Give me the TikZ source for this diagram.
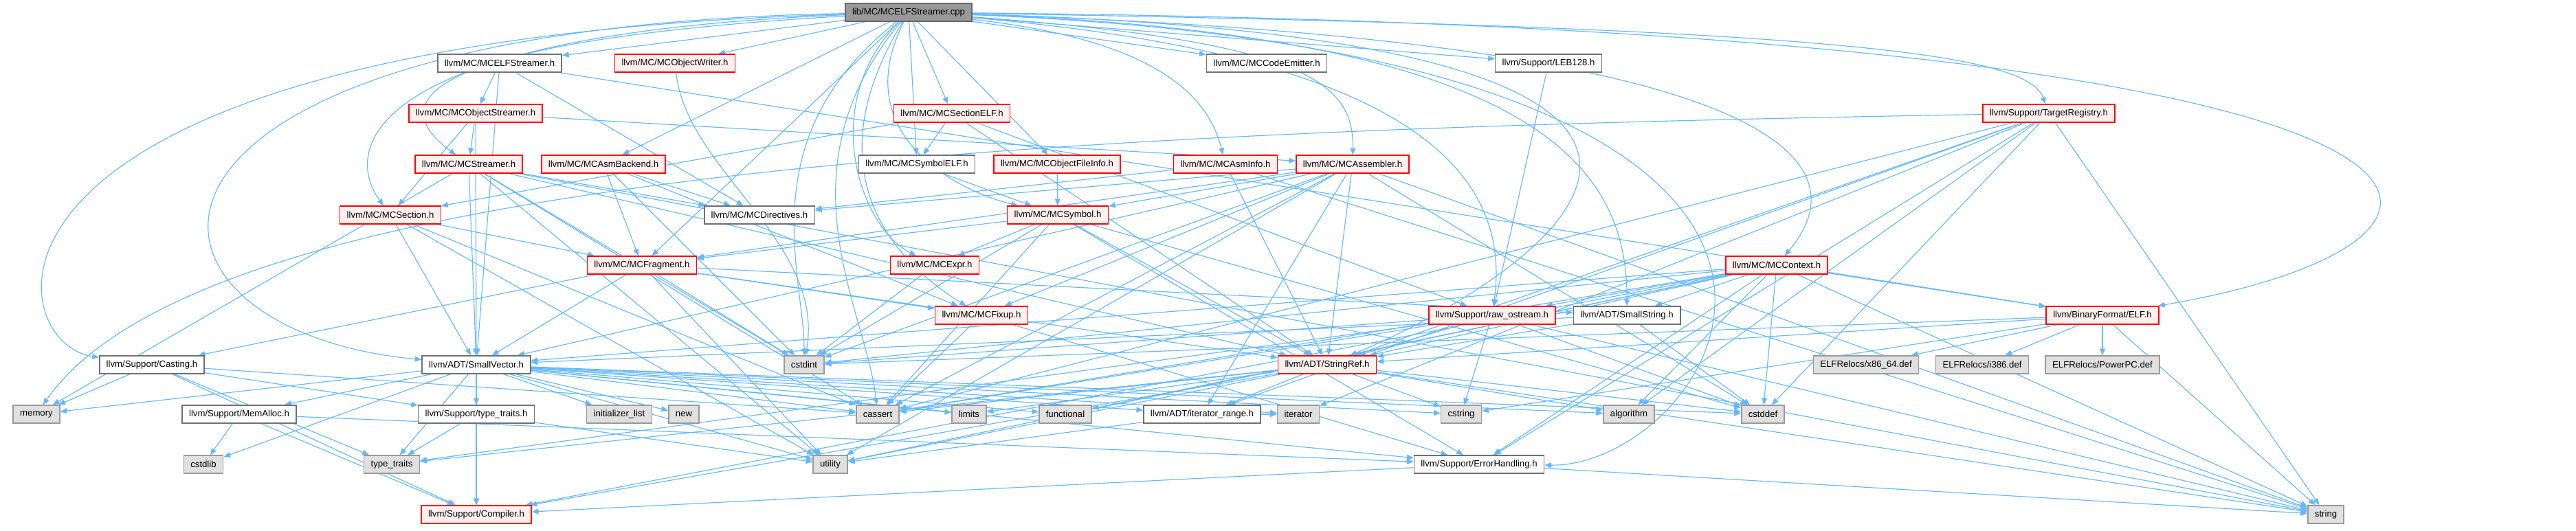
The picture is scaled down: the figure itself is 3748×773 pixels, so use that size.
\documentclass[tikz,border=0pt]{standalone}
\usepackage{fontspec}
\setmainfont{Liberation Sans}
\usetikzlibrary{arrows.meta, backgrounds}
\definecolor{edgeColor}{RGB}{99,184,255}
\definecolor{redLine}{RGB}{255,0,0}
\definecolor{redFill}{RGB}{255,240,240}
\definecolor{greyLine}{RGB}{112,112,112}
\definecolor{sysLine}{RGB}{153,153,153}
\definecolor{sysFill}{RGB}{224,224,224}
\definecolor{rootFill}{RGB}{153,153,153}
\definecolor{rootLine}{RGB}{102,102,102}
\tikzstyle{basebox} = [rectangle, minimum height=0.52cm, inner xsep=0.2cm, inner ysep=0pt, line width=0.9pt, font=\fontsize{7.5}{9}\selectfont, text=black]
\tikzstyle{rootbox} = [basebox, draw=rootLine, fill=rootFill]
\tikzstyle{filebox} = [basebox, draw=greyLine, fill=white]
\tikzstyle{redbox} = [basebox, draw=redLine, fill=redFill]
\tikzstyle{sysbox} = [basebox, draw=sysLine, fill=sysFill]
\tikzstyle{inc} = [line width=0.65pt, edgeColor, -{Triangle[length=5.5pt,width=4.5pt]}]

\begin{document}
\begin{tikzpicture}[x=0.02cm, y=-0.02cm]
    \useasboundingbox (0,0) rectangle (3748,773);
    \begin{pgfonlayer}{background}
        \fill[white] (0,0) rectangle (3748,773);
    \end{pgfonlayer}

    % files, one row after the other
    \node (root) [rootbox] at (1322,18) {lib/MC/MCELFStreamer.cpp};

    \node (elfh) [filebox] at (727,92) {llvm/MC/MCELFStreamer.h};
    \node (objwriter) [redbox] at (982,92) {llvm/MC/MCObjectWriter.h};
    \node (codeemitter) [filebox] at (1843,92) {llvm/MC/MCCodeEmitter.h};
    \node (leb) [filebox] at (2253,92) {llvm/Support/LEB128.h};

    \node (objstreamer) [redbox] at (692,165) {llvm/MC/MCObjectStreamer.h};
    \node (sectionelf) [redbox] at (1385,165) {llvm/MC/MCSectionELF.h};
    \node (targetreg) [redbox] at (2981,165) {llvm/Support/TargetRegistry.h};

    \node (streamer) [redbox] at (682,239) {llvm/MC/MCStreamer.h};
    \node (asmbackend) [redbox] at (878,239) {llvm/MC/MCAsmBackend.h};
    \node (symbolelf) [filebox] at (1334,239) {llvm/MC/MCSymbolELF.h};
    \node (objfileinfo) [redbox] at (1538,239) {llvm/MC/MCObjectFileInfo.h};
    \node (asminfo) [redbox] at (1783,239) {llvm/MC/MCAsmInfo.h};
    \node (assembler) [redbox] at (1968,239) {llvm/MC/MCAssembler.h};

    \node (section) [redbox] at (568,313) {llvm/MC/MCSection.h};
    \node (directives) [filebox] at (1105,313) {llvm/MC/MCDirectives.h};
    \node (symbol) [redbox] at (1539,313) {llvm/MC/MCSymbol.h};

    \node (fragment) [redbox] at (934,386) {llvm/MC/MCFragment.h};
    \node (expr) [redbox] at (1360,386) {llvm/MC/MCExpr.h};
    \node (context) [redbox] at (2585,386) {llvm/MC/MCContext.h};

    \node (fixup) [redbox] at (1428,459) {llvm/MC/MCFixup.h};
    \node (rawos) [redbox] at (2171,459) {llvm/Support/raw\_ostream.h};
    \node (smallstr) [filebox] at (2367,459) {llvm/ADT/SmallString.h};
    \node (elf) [redbox] at (3059,459) {llvm/BinaryFormat/ELF.h};

    \node (casting) [filebox] at (221,531) {llvm/Support/Casting.h};
    \node (smallvec) [filebox] at (693,531) {llvm/ADT/SmallVector.h};
    \node (cstdint) [sysbox] at (1170,531) {cstdint};
    \node (stringref) [redbox] at (1931,531) {llvm/ADT/StringRef.h};
    \node (relx86) [sysbox] at (2715,531) {ELFRelocs/x86\_64.def};
    \node (reli386) [sysbox] at (2884,531) {ELFRelocs/i386.def};
    \node (relppc) [sysbox] at (3059,531) {ELFRelocs/PowerPC.def};

    \node (memory) [sysbox] at (53,603) {memory};
    \node (memalloc) [filebox] at (348,603) {llvm/Support/MemAlloc.h};
    \node (typetraitsh) [filebox] at (693,603) {llvm/Support/type\_traits.h};
    \node (initlist) [sysbox] at (901,603) {initializer\_list};
    \node (new) [sysbox] at (995,603) {new};
    \node (cassert) [sysbox] at (1277,603) {cassert};
    \node (limits) [sysbox] at (1410,603) {limits};
    \node (functional) [sysbox] at (1550,603) {functional};
    \node (iterrange) [filebox] at (1749,603) {llvm/ADT/iterator\_range.h};
    \node (iterator) [sysbox] at (1889,603) {iterator};
    \node (cstring) [sysbox] at (2126,603) {cstring};
    \node (algorithm) [sysbox] at (2370,603) {algorithm};
    \node (cstddef) [sysbox] at (2565,603) {cstddef};

    \node (cstdlib) [sysbox] at (296,676) {cstdlib};
    \node (typetraits) [sysbox] at (570,676) {type\_traits};
    \node (utility) [sysbox] at (1208,676) {utility};
    \node (errhandling) [filebox] at (2152,676) {llvm/Support/ErrorHandling.h};

    \node (compiler) [redbox] at (693,749) {llvm/Support/Compiler.h};
    \node (string) [sysbox] at (3384,749) {string};

    \begin{pgfonlayer}{background}
    % includes of the .cpp file
    \draw [inc] (root) -- (elfh);
    \draw [inc] (root) -- (objwriter);
    \draw [inc] (root) -- (codeemitter);
    \draw [inc] (root) -- (leb);
    \draw [inc] (root) -- (sectionelf);
    \draw [inc] (root) -- (symbolelf);
    \draw [inc] (root) -- (objfileinfo);
    \draw [inc] (root) -- (asmbackend);
    \draw [inc] (root) -- (fragment);
    \draw [inc] (root) .. controls (1700,60) and (1760,150) .. (asminfo);
    \draw [inc] (root) .. controls (1900,60) and (1970,120) .. (assembler);
    \draw [inc] (root) .. controls (2700,40) and (2950,80) .. (targetreg);
    \draw [inc] (root) .. controls (600,60) and (560,150) .. (streamer);
    \draw [inc] (root) .. controls (520,50) and (500,220) .. (section);
    \draw [inc] (root) .. controls (1230,200) and (1400,280) .. (symbol);
    \draw [inc] (root) .. controls (1190,150) and (1250,330) .. (expr);
    \draw [inc] (root) .. controls (1180,250) and (1300,380) .. (fixup);
    \draw [inc] (root) .. controls (1130,250) and (1260,450) .. (cassert);
    \draw [inc] (root) .. controls (1090,200) and (1170,400) .. (cstdint);
    \draw [inc] (root) .. controls (2650,60) and (2700,250) .. (context);
    \draw [inc] (root) .. controls (2050,80) and (2200,250) .. (rawos);
    \draw [inc] (root) .. controls (2250,50) and (2368,250) .. (smallstr);
    \draw [inc] (root) .. controls (2800,60) and (2200,420) .. (stringref);
    \draw [inc] (root) .. controls (3750,40) and (3700,350) .. (elf);
    \draw [inc] (root) .. controls (2900,80) and (2500,680) .. (errhandling);
    \draw [inc] (root) .. controls (-100,60) and (0,500) .. (casting);
    \draw [inc] (root) .. controls (100,40) and (150,480) .. (smallvec);

    % MC headers
    \draw [inc] (elfh) -- (smallvec); \draw [inc] (elfh) -- (directives);
    \draw [inc] (elfh) -- (objstreamer); \draw [inc] (elfh) -- (elf);
    \draw [inc] (objwriter) .. controls (1000,250) and (1200,350) .. (cstdint);
    \draw [inc] (leb) -- (rawos);
    \draw [inc] (targetreg) -- (stringref); \draw [inc] (targetreg) -- (iterrange);
    \draw [inc] (targetreg) -- (errhandling); \draw [inc] (targetreg) -- (algorithm);
    \draw [inc] (targetreg) -- (cassert); \draw [inc] (targetreg) -- (cstddef);
    \draw [inc] (targetreg) -- (iterator); \draw [inc] (targetreg) -- (string);
    \draw [inc] (targetreg) .. controls (1500,190) and (300,250) .. (memory);
    \draw [inc] (objstreamer) -- (smallvec); \draw [inc] (objstreamer) -- (assembler);
    \draw [inc] (objstreamer) -- (section); \draw [inc] (objstreamer) -- (streamer);
    \draw [inc] (sectionelf) -- (stringref); \draw [inc] (sectionelf) -- (section);
    \draw [inc] (sectionelf) -- (symbolelf); \draw [inc] (sectionelf) -- (rawos);
    \draw [inc] (streamer) -- (smallvec); \draw [inc] (streamer) -- (stringref);
    \draw [inc] (streamer) -- (directives); \draw [inc] (streamer) -- (cassert);
    \draw [inc] (streamer) -- (cstdint); \draw [inc] (streamer) -- (memory);
    \draw [inc] (streamer) -- (string); \draw [inc] (streamer) -- (utility);
    \draw [inc] (asmbackend) -- (directives); \draw [inc] (asmbackend) -- (fixup);
    \draw [inc] (asmbackend) -- (fragment); \draw [inc] (asmbackend) -- (cstdint);
    \draw [inc] (symbolelf) -- (symbol);
    \draw [inc] (objfileinfo) -- (symbol);
    \draw [inc] (asminfo) -- (directives); \draw [inc] (asminfo) -- (stringref);
    \draw [inc] (asminfo) -- (string);
    \draw [inc] (assembler) -- (smallvec); \draw [inc] (assembler) -- (stringref);
    \draw [inc] (assembler) -- (iterrange); \draw [inc] (assembler) -- (directives);
    \draw [inc] (assembler) -- (fixup); \draw [inc] (assembler) -- (fragment);
    \draw [inc] (assembler) -- (symbol); \draw [inc] (assembler) -- (cassert);
    \draw [inc] (assembler) -- (cstddef); \draw [inc] (assembler) -- (cstdint);
    \draw [inc] (assembler) -- (string); \draw [inc] (assembler) -- (utility);
    \draw [inc] (section) -- (smallvec); \draw [inc] (section) -- (fragment);
    \draw [inc] (section) -- (cassert); \draw [inc] (section) -- (utility);
    \draw [inc] (symbol) -- (expr); \draw [inc] (symbol) -- (fragment);
    \draw [inc] (symbol) -- (stringref); \draw [inc] (symbol) -- (errhandling);
    \draw [inc] (symbol) -- (cassert); \draw [inc] (symbol) -- (cstddef);
    \draw [inc] (symbol) -- (cstdint);
    \draw [inc] (fragment) -- (smallstr); \draw [inc] (fragment) -- (smallvec);
    \draw [inc] (fragment) -- (stringref); \draw [inc] (fragment) -- (fixup);
    \draw [inc] (fragment) -- (casting); \draw [inc] (fragment) -- (cstdint);
    \draw [inc] (fragment) -- (utility);
    \draw [inc] (expr) -- (cstdint);
    \draw [inc] (context) -- (smallstr); \draw [inc] (context) -- (smallvec);
    \draw [inc] (context) -- (stringref); \draw [inc] (context) -- (elf);
    \draw [inc] (context) -- (rawos); \draw [inc] (context) -- (compiler);
    \draw [inc] (context) -- (errhandling); \draw [inc] (context) -- (algorithm);
    \draw [inc] (context) -- (cassert); \draw [inc] (context) -- (cstddef);
    \draw [inc] (context) -- (cstdint); \draw [inc] (context) -- (functional);
    \draw [inc] (context) -- (string); \draw [inc] (context) -- (utility);
    \draw [inc] (fixup) -- (cassert); \draw [inc] (fixup) -- (errhandling);

    % support and ADT headers
    \draw [inc] (rawos) -- (stringref); \draw [inc] (rawos) -- (cassert);
    \draw [inc] (rawos) -- (cstddef); \draw [inc] (rawos) -- (cstdint);
    \draw [inc] (rawos) -- (cstring); \draw [inc] (rawos) -- (string);
    \draw [inc] (rawos) -- (typetraits);
    \draw [inc] (smallstr) -- (smallvec); \draw [inc] (smallstr) -- (stringref);
    \draw [inc] (smallstr) -- (cstddef);
    \draw [inc] (elf) -- (relx86); \draw [inc] (elf) -- (reli386);
    \draw [inc] (elf) -- (relppc); \draw [inc] (elf) -- (stringref);
    \draw [inc] (elf) -- (cstdint); \draw [inc] (elf) -- (cstring);
    \draw [inc] (elf) -- (string);
    \draw [inc] (casting) -- (compiler); \draw [inc] (casting) -- (typetraitsh);
    \draw [inc] (casting) -- (cassert); \draw [inc] (casting) -- (memory);
    \draw [inc] (casting) -- (typetraits);
    \draw [inc] (smallvec) -- (compiler); \draw [inc] (smallvec) -- (errhandling);
    \draw [inc] (smallvec) -- (memalloc); \draw [inc] (smallvec) -- (typetraitsh);
    \draw [inc] (smallvec) -- (iterrange); \draw [inc] (smallvec) -- (algorithm);
    \draw [inc] (smallvec) -- (cassert); \draw [inc] (smallvec) -- (cstddef);
    \draw [inc] (smallvec) -- (cstdlib); \draw [inc] (smallvec) -- (cstring);
    \draw [inc] (smallvec) -- (functional); \draw [inc] (smallvec) -- (initlist);
    \draw [inc] (smallvec) -- (iterator); \draw [inc] (smallvec) -- (limits);
    \draw [inc] (smallvec) -- (memory); \draw [inc] (smallvec) -- (new);
    \draw [inc] (smallvec) -- (typetraits); \draw [inc] (smallvec) -- (utility);
    \draw [inc] (stringref) -- (iterrange); \draw [inc] (stringref) -- (compiler);
    \draw [inc] (stringref) -- (algorithm); \draw [inc] (stringref) -- (cassert);
    \draw [inc] (stringref) -- (cstddef); \draw [inc] (stringref) -- (cstring);
    \draw [inc] (stringref) -- (limits); \draw [inc] (stringref) -- (string);
    \draw [inc] (stringref) -- (typetraits); \draw [inc] (stringref) -- (utility);
    \draw [inc] (memalloc) -- (compiler); \draw [inc] (memalloc) -- (errhandling);
    \draw [inc] (memalloc) -- (cstdlib);
    \draw [inc] (typetraitsh) -- (compiler); \draw [inc] (typetraitsh) -- (typetraits);
    \draw [inc] (typetraitsh) -- (utility);
    \draw [inc] (iterrange) -- (iterator); \draw [inc] (iterrange) -- (utility);
    \draw [inc] (errhandling) -- (compiler); \draw [inc] (errhandling) -- (string);
    \end{pgfonlayer}
\end{tikzpicture}
\end{document}
